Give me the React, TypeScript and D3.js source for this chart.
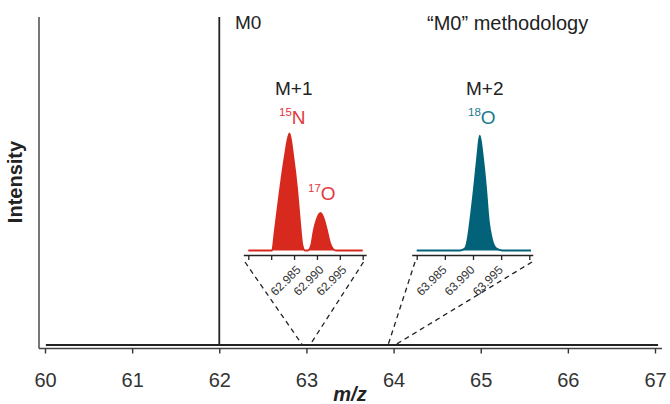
import React, { useEffect, useRef } from "react";
import * as d3 from "d3";

// main spectrum (m/z, relative intensity)
const mainTicks = [60, 61, 62, 63, 64, 65, 66, 67];
const mainMz = [60.01, 62, 62, 62, 67.035];
const mainIntensity = [0, 0, 1, 0, 0];

// M+1 inset (15N and 17O peaks)
const m1Ticks = [62.975, 62.98, 62.985, 62.99, 62.995, 63.0];
const m1Labels = [62.985, 62.99, 62.995];
const m1Mz = [
  62.975, 62.9802, 62.9808, 62.9819, 62.983, 62.984, 62.9848, 62.9857, 62.9863,
  62.9868, 62.9874, 62.988, 62.9887, 62.9893, 62.99, 62.9908, 62.9915, 62.9922,
  62.9928, 62.9936, 62.9942, 63.0,
];
const m1Intensity = [
  0, 0, 0.17, 0.51, 0.81, 1, 0.81, 0.51, 0.24, 0.05, 0, 0, 0.04, 0.17, 0.27,
  0.32, 0.27, 0.17, 0.07, 0.01, 0, 0,
];

// M+2 inset (18O peak)
const m2Ticks = [63.98, 63.985, 63.99, 63.995, 64.0];
const m2Labels = [63.985, 63.99, 63.995];
const m2Mz = [
  63.98, 63.9877, 63.9886, 63.9891, 63.9895, 63.9902, 63.9908, 63.9912, 63.9917,
  63.9923, 63.9928, 63.9933, 63.9941, 63.9952, 64.0003,
];
const m2Intensity = [
  0, 0, 0.02, 0.11, 0.25, 0.54, 0.82, 0.98, 0.82, 0.54, 0.25, 0.11, 0.02, 0, 0,
];

const FONT = "'Liberation Sans', Arial, Helvetica, sans-serif";
const RED = "#d8291f";
const RED_TEXT = "#e23a3e";
const TEAL = "#02627a";
const TEAL_TEXT = "#1a7a8e";
const INK = "#222";

export default function App() {
  const ref = useRef(null);

  useEffect(() => {
    const svg = d3.select(ref.current);
    svg.selectAll("*").remove();

    const x = d3.scaleLinear().domain([60, 67]).range([45, 655]);
    const y = d3.scaleLinear().domain([0, 1]).range([345, 17]);
    const axisY = 348.5;

    // axes lines
    svg.append("line")
      .attr("x1", 39).attr("x2", 39).attr("y1", 17).attr("y2", axisY)
      .attr("stroke", "#555").attr("stroke-width", 1.6);
    svg.append("line")
      .attr("x1", 39).attr("x2", 662).attr("y1", axisY).attr("y2", axisY)
      .attr("stroke", "#444").attr("stroke-width", 1.6);

    const xAxis = svg.append("g")
      .attr("transform", `translate(0,${axisY})`)
      .call(d3.axisBottom(x).tickValues(mainTicks).tickSize(5).tickSizeOuter(0).tickFormat(d3.format("d")));
    xAxis.select(".domain").remove();
    xAxis.selectAll("line").attr("stroke", "#333").attr("stroke-width", 1.4);
    xAxis.selectAll("text")
      .attr("y", 38).attr("dy", 0)
      .attr("font-size", 20).attr("font-family", FONT).attr("fill", "#333");

    // main spectrum
    const mainLine = d3.line()
      .x((d, i) => x(mainMz[i]))
      .y((d) => y(d));
    svg.append("path")
      .datum(mainIntensity)
      .attr("d", mainLine)
      .attr("fill", "none")
      .attr("stroke", "#222")
      .attr("stroke-width", 1.8);

    // inset scales
    const insetY = d3.scaleLinear().domain([0, 1]).range([250.5, 133.3]);
    const insetAxisY = 255.5;

    const drawInset = (ticks, labels, mz, intensity, range, color, labelDx) => {
      const xs = d3.scaleLinear().domain([ticks[0], ticks[ticks.length - 1]]).range(range);
      const area = d3.area()
        .x((d, i) => xs(mz[i]))
        .y0(insetY(0))
        .y1((d) => insetY(d))
        .curve(d3.curveMonotoneX);
      const line = d3.line()
        .x((d, i) => xs(mz[i]))
        .y((d) => insetY(d))
        .curve(d3.curveMonotoneX);
      svg.append("path").datum(intensity).attr("d", area).attr("fill", color);
      svg.append("path").datum(intensity).attr("d", line)
        .attr("fill", "none").attr("stroke", color).attr("stroke-width", 1.8);

      svg.append("line")
        .attr("x1", range[0] - 4.5).attr("x2", range[1] + 4)
        .attr("y1", insetAxisY).attr("y2", insetAxisY)
        .attr("stroke", "#222").attr("stroke-width", 1.5);
      const ax = svg.append("g")
        .attr("transform", `translate(0,${insetAxisY})`)
        .call(d3.axisBottom(xs).tickValues(ticks).tickSize(4.5).tickSizeOuter(0).tickFormat(""));
      ax.select(".domain").remove();
      ax.selectAll("line").attr("stroke", "#222").attr("stroke-width", 1.3);

      labels.forEach((v) => {
        svg.append("text")
          .attr("transform", `translate(${xs(v) + labelDx},${insetAxisY + 15}) rotate(-45)`)
          .attr("text-anchor", "end")
          .attr("font-size", 12)
          .attr("font-family", FONT)
          .attr("fill", "#333")
          .text(d3.format(".3f")(v));
      });
      return xs;
    };

    drawInset(m1Ticks, m1Labels, m1Mz, m1Intensity, [248.3, 362.7], RED, 7.5);
    drawInset(m2Ticks, m2Labels, m2Mz, m2Intensity, [416.7, 529.3], TEAL, 2.5);

    // zoom guide lines
    const guides = [
      [245, 262, x(63) - 4, 345],
      [363.5, 262, x(63) + 3.5, 345],
      [415, 262, x(64) - 5.5, 345],
      [532, 262, x(64) + 1.5, 345],
    ];
    guides.forEach((g) => {
      svg.append("line")
        .attr("x1", g[0]).attr("y1", g[1]).attr("x2", g[2]).attr("y2", g[3])
        .attr("stroke", "#222").attr("stroke-width", 1.3)
        .attr("stroke-dasharray", "5,4");
    });

    // labels
    const label = (tx, ty, txt, size, fill) =>
      svg.append("text")
        .attr("x", tx).attr("y", ty)
        .attr("font-family", FONT).attr("font-size", size).attr("fill", fill)
        .text(txt);

    label(235, 28.5, "M0", 19, INK);
    label(427, 30, "\u201cM0\u201d methodology", 20, INK);
    label(275, 94.5, "M+1", 19, INK);
    label(466, 94.5, "M+2", 19, INK);

    const isotope = (tx, ty, mass, el, fill) => {
      const t = svg.append("text")
        .attr("x", tx).attr("y", ty)
        .attr("font-family", FONT).attr("fill", fill);
      t.append("tspan").attr("font-size", 11.5).attr("dy", -7.5).text(mass);
      t.append("tspan").attr("font-size", 19).attr("dy", 7.5).text(el);
    };
    isotope(279, 123.5, "15", "N", RED_TEXT);
    isotope(308, 199.5, "17", "O", RED_TEXT);
    isotope(468, 123.5, "18", "O", TEAL_TEXT);

    svg.append("text")
      .attr("transform", "translate(22,182) rotate(-90)")
      .attr("text-anchor", "middle")
      .attr("font-family", FONT)
      .attr("font-weight", "bold")
      .attr("font-size", 20)
      .attr("fill", INK)
      .text("Intensity");

    svg.append("text")
      .attr("x", 350).attr("y", 401)
      .attr("text-anchor", "middle")
      .attr("font-family", FONT)
      .attr("font-weight", "bold")
      .attr("font-style", "italic")
      .attr("font-size", 20)
      .attr("fill", INK)
      .text("m/z");
  }, []);

  return (
    <svg
      ref={ref}
      width={670}
      height={404}
      style={{ position: "absolute", left: 0, top: 0, background: "#fff" }}
    />
  );
}
